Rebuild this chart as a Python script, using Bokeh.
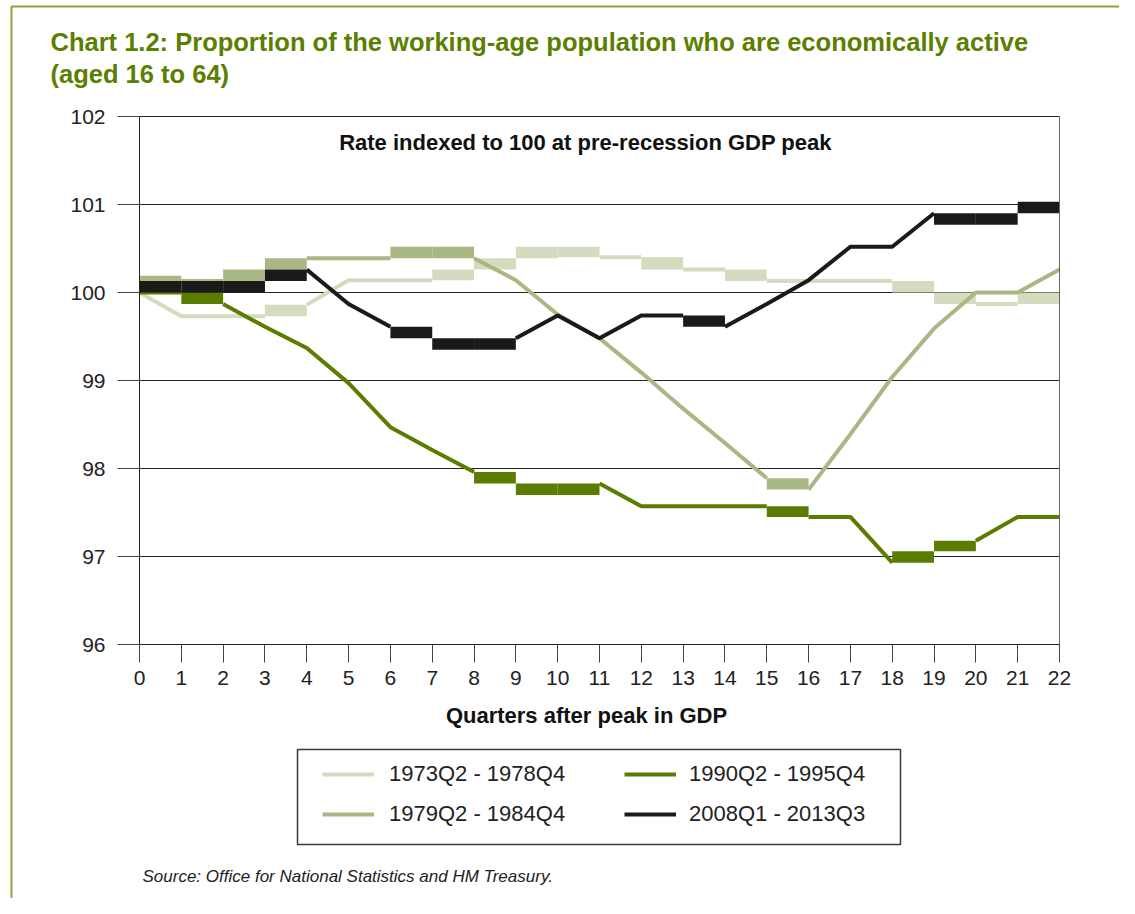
import math
from bokeh.plotting import figure
from bokeh.models import (Range1d, FixedTicker, Label, Legend, LegendItem,
                          BoxAnnotation, LinearAxis)
from bokeh.embed import file_html
from bokeh.resources import INLINE

# ---------------- data ----------------
quarters = list(range(23))
x_ticks = list(range(23))
y_ticks = [96, 97, 98, 99, 100, 101, 102]

s1973 = [100.0, 99.73, 99.73, 99.73, 99.86, 100.14, 100.14, 100.14, 100.26, 100.39,
         100.52, 100.40, 100.40, 100.26, 100.26, 100.13, 100.13, 100.13, 100.13,
         100.0, 99.87, 99.87, 100.0]
s1979 = [100.19, 100.13, 100.13, 100.26, 100.39, 100.39, 100.39, 100.52, 100.39,
         100.14, 99.75, 99.48, 99.09, 98.68, 98.29, 97.89, 97.76, 98.39, 99.04,
         99.59, 100.0, 100.0, 100.26]
s1990 = [100.0, 100.0, 99.87, 99.61, 99.37, 98.97, 98.47, 98.21, 97.96, 97.83,
         97.70, 97.83, 97.57, 97.57, 97.57, 97.57, 97.45, 97.45, 96.93, 97.06,
         97.18, 97.45, 97.45]
s2008 = [100.0, 100.13, 100.0, 100.13, 100.26, 99.87, 99.61, 99.48, 99.35, 99.48,
         99.74, 99.48, 99.74, 99.74, 99.61, 99.87, 100.14, 100.52, 100.52, 100.90,
         100.77, 100.90, 101.03]

names = ["1973Q2 - 1978Q4", "1979Q2 - 1984Q4", "1990Q2 - 1995Q4", "2008Q1 - 2013Q3"]
values = [s1973, s1979, s1990, s2008]
colors = ["#d3dcbf", "#a9b783", "#5a7d00", "#1a1a1a"]

GREEN = "#5b7f00"
FRAME_GREEN = "#86a83a"
FONT = "Liberation Sans"

W, H = 1119, 898
# pixel layout of the plotting area inside the page
PL, PR, PT, PB = 139, 1059, 116, 644
xmin, xmax = quarters[0], quarters[-1]
ymin, ymax = y_ticks[0], y_ticks[-1]
sx = (PR - PL) / (xmax - xmin)
sy = (PB - PT) / (ymax - ymin)


def X(px):
    return xmin + (px - PL) / sx


def Y(py):
    return ymin + (PB - py) / sy


p = figure(width=W, height=H, output_backend="svg", toolbar_location=None,
           title=None, x_range=Range1d(X(0), X(W)), y_range=Range1d(Y(H), Y(0)),
           x_axis_location=None, y_axis_location=None,
           min_border=0, min_border_left=0, min_border_right=0,
           min_border_top=0, min_border_bottom=0)
p.background_fill_color = "white"
p.border_fill_color = "white"
p.outline_line_color = None
p.grid.visible = False

# horizontal grid lines at the y ticks, across the quarter range
p.segment(x0=[xmin] * len(y_ticks), x1=[xmax] * len(y_ticks), y0=y_ticks, y1=y_ticks,
          line_color="#222222", line_width=1)

# ---------------- series ----------------
THR = 0.16
legend_items = []
for name, ys, col in zip(names, values, colors):
    lx, ly = [quarters[0]], [ys[0]]
    ql, qr, qb, qt = [], [], [], []
    for i in range(len(ys) - 1):
        d = abs(ys[i + 1] - ys[i])
        if 0 < d < THR:
            lx.append(math.nan)
            ly.append(math.nan)
            ql.append(quarters[i]); qr.append(quarters[i + 1])
            qb.append(min(ys[i], ys[i + 1])); qt.append(max(ys[i], ys[i + 1]))
        lx.append(quarters[i + 1])
        ly.append(ys[i + 1])
    r = p.line(lx, ly, line_color=col, line_width=4)
    if ql:
        p.quad(left=ql, right=qr, bottom=qb, top=qt, fill_color=col, line_color=None)
    legend_items.append(LegendItem(label=name, renderers=[r]))

# ---------------- axes ----------------
yax = LinearAxis(fixed_location=xmin, bounds=(ymin, ymax),
                 ticker=FixedTicker(ticks=y_ticks))
xax = LinearAxis(fixed_location=ymin, bounds=(xmin, xmax),
                 ticker=FixedTicker(ticks=x_ticks))
rax = LinearAxis(fixed_location=xmax, bounds=(ymin, ymax),
                 ticker=FixedTicker(ticks=[]))
for ax in (xax, yax, rax):
    ax.axis_line_color = "#222222"
    ax.major_tick_line_color = "#444444"
    ax.major_tick_in = 0
    ax.minor_tick_line_color = None
    ax.major_label_text_font = FONT
    ax.major_label_text_color = "#222222"
rax.axis_line_color = "#666666"
rax.major_tick_out = 0
xax.major_tick_out = 18
xax.major_label_standoff = 8
xax.major_label_text_font_size = "21px"
yax.major_tick_out = 22
yax.major_label_standoff = 12
yax.major_label_text_font_size = "21px"
p.add_layout(yax, "left")
p.add_layout(xax, "below")
p.add_layout(rax, "right")

# ---------------- legend ----------------
leg_common = dict(label_text_font=FONT, label_text_font_size="22px",
                  label_text_color="#222222", glyph_width=52, glyph_height=22,
                  label_height=22, spacing=14, padding=0, margin=0,
                  border_line_color=None, background_fill_alpha=0)
p.add_layout(BoxAnnotation(left=X(297), right=X(900), top=Y(749), bottom=Y(844),
                           fill_color="white", fill_alpha=1,
                           line_color="#3a3a3a", line_alpha=1, line_width=1.5))
leg1 = Legend(items=[legend_items[0], legend_items[1]], location=(322, H - 827),
              label_standoff=15, **leg_common)
leg2 = Legend(items=[legend_items[2], legend_items[3]], location=(624, H - 827),
              label_standoff=13, **leg_common)
p.add_layout(leg1, "center")
p.add_layout(leg2, "center")

# ---------------- texts ----------------
p.add_layout(Label(x=X(50), y=Y(41),
                   text="Chart 1.2: Proportion of the working-age population who are economically active",
                   text_font=FONT, text_font_style="bold", text_font_size="25.5px",
                   text_color=GREEN, text_baseline="middle", text_align="left"))
p.add_layout(Label(x=X(50), y=Y(73), text="(aged 16 to 64)",
                   text_font=FONT, text_font_style="bold", text_font_size="25.5px",
                   text_color=GREEN, text_baseline="middle", text_align="left"))
p.add_layout(Label(x=X(585), y=Y(142), text="Rate indexed to 100 at pre-recession GDP peak",
                   text_font=FONT, text_font_style="bold", text_font_size="22px",
                   text_color="#111111", text_baseline="middle", text_align="center"))
p.add_layout(Label(x=X(586), y=Y(715), text="Quarters after peak in GDP",
                   text_font=FONT, text_font_style="bold", text_font_size="22px",
                   text_color="#111111", text_baseline="middle", text_align="center"))
p.add_layout(Label(x=X(142), y=Y(876), text="Source: Office for National Statistics and HM Treasury.",
                   text_font=FONT, text_font_style="italic", text_font_size="17px",
                   text_color="#222222", text_baseline="middle", text_align="left"))

# page frame (green lines at left and top)
p.add_layout(BoxAnnotation(left=X(11), right=X(W + 50), top=Y(6), bottom=Y(H + 50),
                           fill_alpha=0, line_color=FRAME_GREEN, line_alpha=1,
                           line_width=2))

open("out.html", "w").write(file_html(p, INLINE))
